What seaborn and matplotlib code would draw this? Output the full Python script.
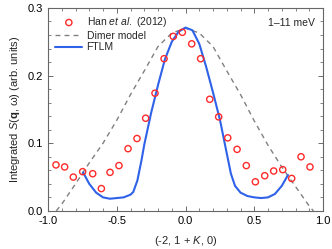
import numpy as np
import pandas as pd
import seaborn as sns
import matplotlib.pyplot as plt
from matplotlib.ticker import MultipleLocator

#--------------------------------------------------------------------------------------------------------------------------
# Data
han_k = [-0.942, -0.879, -0.816, -0.748, -0.675, -0.612, -0.549, -0.484, -0.418, -0.353,
         -0.290, -0.222, -0.156, -0.089, -0.023, 0.045, 0.110, 0.176, 0.241, 0.307,
         0.375, 0.442, 0.508, 0.576, 0.641, 0.707, 0.772, 0.840, 0.905]
han_s = [0.068, 0.065, 0.050, 0.058, 0.055, 0.033, 0.057, 0.067, 0.092, 0.107,
         0.137, 0.174, 0.225, 0.258, 0.264, 0.247, 0.225, 0.165, 0.139, 0.108,
         0.091, 0.067, 0.043, 0.052, 0.059, 0.061, 0.048, 0.080, 0.065]

dimer_k = [-0.94, -0.90, -0.80, -0.70, -0.60, -0.50, -0.40, -0.30, -0.20, -0.10, 0.00,
           0.10, 0.20, 0.30, 0.40, 0.50, 0.60, 0.70, 0.80, 0.90, 0.93]
dimer_s = [0.000, 0.010, 0.040, 0.071, 0.100, 0.134, 0.172, 0.207, 0.243, 0.263, 0.270,
           0.263, 0.243, 0.207, 0.172, 0.133, 0.097, 0.065, 0.036, 0.007, 0.000]

ftlm_k = [-0.745, -0.70, -0.65, -0.60, -0.55, -0.50, -0.45, -0.40, -0.38, -0.35, -0.32, -0.30,
          -0.25, -0.20, -0.15, -0.10, -0.05, 0.00, 0.05, 0.10, 0.15, 0.20, 0.25, 0.27,
          0.30, 0.33, 0.36, 0.40, 0.45, 0.50, 0.55, 0.60, 0.65, 0.70, 0.745]
ftlm_s = [0.057, 0.040, 0.027, 0.020, 0.018, 0.019, 0.020, 0.024, 0.028, 0.045, 0.075, 0.098,
          0.145, 0.186, 0.224, 0.250, 0.265, 0.271, 0.267, 0.247, 0.213, 0.175, 0.135, 0.115,
          0.085, 0.055, 0.037, 0.027, 0.022, 0.020, 0.019, 0.020, 0.025, 0.037, 0.053]

df_han = pd.DataFrame({'k': han_k, 's': han_s})
df_dimer = pd.DataFrame({'k': dimer_k, 's': dimer_s})
df_ftlm = pd.DataFrame({'k': ftlm_k, 's': ftlm_s})

#--------------------------------------------------------------------------------------------------------------------------
sns.set_style('ticks')
plt.rcParams['font.family'] = ['Liberation Sans', 'DejaVu Sans']
plt.rcParams['axes.unicode_minus'] = False
plt.rcParams['mathtext.fontset'] = 'custom'
plt.rcParams['mathtext.rm'] = 'Liberation Sans'
plt.rcParams['mathtext.it'] = 'Liberation Sans:italic'
plt.rcParams['mathtext.bf'] = 'Liberation Sans:bold'

fig = plt.figure(figsize=(3.32, 2.49), dpi=100)
ax = fig.add_axes([0.1446, 0.153, 0.8284, 0.815])

sns.scatterplot(data=df_han, x='k', y='s', ax=ax, marker='o', s=20, facecolor='none',
                edgecolor='#ff2a2a', linewidth=1.0, label='Han $et$ $al.$ (2012)', zorder=3)
sns.lineplot(data=df_dimer, x='k', y='s', ax=ax, color='#808080', linestyle=(0, (3.5, 3)),
             linewidth=1.0, label='Dimer model', sort=False)
sns.lineplot(data=df_ftlm, x='k', y='s', ax=ax, color='#2f62e8', linewidth=1.5,
             label='FTLM', sort=False)

ax.set_xlim(-1.0, 1.0)
ax.set_ylim(0.0, 0.3)
ax.xaxis.set_major_locator(MultipleLocator(0.5))
ax.xaxis.set_minor_locator(MultipleLocator(0.1))
ax.yaxis.set_major_locator(MultipleLocator(0.1))
ax.yaxis.set_minor_locator(MultipleLocator(0.02))
ax.tick_params(which='both', direction='in', top=True, right=True, labelsize=8, colors='#555555',
               labelcolor='black')
ax.tick_params(which='major', length=3.5, width=0.6)
ax.tick_params(which='minor', length=2, width=0.5)
for sp in ax.spines.values():
    sp.set_linewidth(0.8)
    sp.set_color('#666666')

ax.set_xlabel('(-2, 1 + $K$, 0)', fontsize=8, labelpad=6)
ax.set_ylabel('Integrated $S$($\\mathbf{q}$, ω) (arb. units)', fontsize=8, labelpad=4)

ax.text(0.97, 0.95, '1–11 meV', transform=ax.transAxes, ha='right', va='top', fontsize=7.5)

leg = ax.legend(loc='upper left', frameon=False, fontsize=7.5, handlelength=2.6,
                borderaxespad=0.3, labelspacing=0.15, handletextpad=0.4)

fig.savefig('out.png', dpi=100)
